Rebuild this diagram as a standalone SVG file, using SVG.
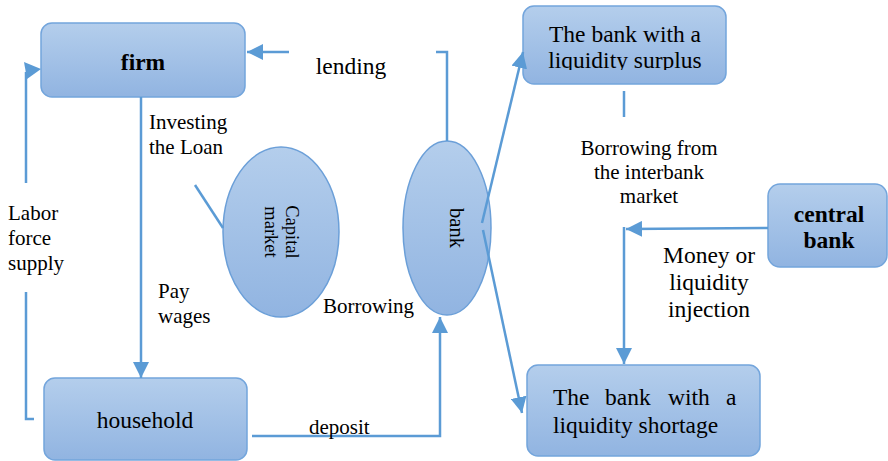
<svg xmlns="http://www.w3.org/2000/svg" width="888" height="461" viewBox="0 0 888 461" font-family="'Liberation Serif', 'DejaVu Serif', serif">
<defs>
<linearGradient id="g" x1="0" y1="0" x2="0" y2="1">
<stop offset="0" stop-color="#b4ceec"/>
<stop offset="1" stop-color="#91b4e1"/>
</linearGradient>
<marker id="ah" markerUnits="userSpaceOnUse" markerWidth="17" markerHeight="16" refX="16" refY="8" orient="auto" viewBox="0 0 17 16">
<path d="M0,0 L16,8 L0,16 z" fill="#5b9bd5"/>
</marker>
<clipPath id="clipS"><rect x="523" y="6" width="203" height="64"/></clipPath>
</defs>
<style>
.box{fill:url(#g);stroke:#73a5dc;stroke-width:1.5}
.ell{fill:url(#g);stroke:#6b9fd8;stroke-width:1.5}
.c{fill:none;stroke:#5b9bd5;stroke-width:2.5}
.a{marker-end:url(#ah)}
text{fill:#000}
.big{font-size:23.5px}
.lbl{font-size:21px}
.b{font-weight:bold}
</style>
<rect width="888" height="461" fill="#fff"/>
<g id="firm">
<rect class="box" x="41" y="23" width="204" height="74" rx="11"/>
<text class="big b" x="143" y="70" text-anchor="middle">firm</text>
</g>
<g id="household">
<rect class="box" x="44" y="378" width="203" height="82" rx="11"/>
<text class="big" x="145" y="428" text-anchor="middle">household</text>
</g>
<g id="capital-market">
<ellipse class="ell" cx="281" cy="232" rx="58" ry="85"/>
<text transform="translate(281,232) rotate(90)" style="font-size:18.5px" text-anchor="middle"><tspan x="0" y="-5">Capital</tspan><tspan x="0" y="16">market</tspan></text>
</g>
<g id="bank">
<ellipse class="ell" cx="447" cy="228" rx="44" ry="87"/>
<text transform="translate(447,228) rotate(90)" style="font-size:20.5px" text-anchor="middle" x="0" y="-3">bank</text>
</g>
<g id="surplus-bank">
<rect class="box" x="523" y="6" width="203" height="78" rx="11"/>
<text class="big" x="625" y="42" text-anchor="middle">The bank with a</text>
<text class="big" x="625" y="68" text-anchor="middle" clip-path="url(#clipS)">liquidity surplus</text>
</g>
<g id="shortage-bank">
<rect class="box" x="527" y="365" width="233" height="91" rx="11"/>
<text class="big" y="405"><tspan x="553">The</tspan><tspan x="605">bank</tspan><tspan x="668">with</tspan><tspan x="726">a</tspan></text>
<text class="big" x="553" y="433">liquidity shortage</text>
</g>
<g id="central-bank">
<rect class="box" x="768" y="184" width="119" height="83" rx="12"/>
<text class="big b" x="829" y="222" text-anchor="middle">central</text>
<text class="big b" x="829" y="248" text-anchor="middle">bank</text>
</g>
<g id="connectors">
<polyline class="c" points="447,141 447,52 436,52"/>
<line class="c a" x1="289" y1="52" x2="247" y2="52"/>
<line class="c a" x1="141" y1="97" x2="141" y2="378"/>
<polyline class="c" points="34,419 26,419 26,292"/>
<line class="c" x1="26" y1="183" x2="26" y2="72"/>
<polygon points="24,62 41,69 27,79" fill="#5b9bd5"/>
<line class="c" x1="195" y1="185" x2="223" y2="228"/>
<polyline class="c a" points="252,436 440,436 440,317"/>
<line class="c a" x1="482" y1="223" x2="523" y2="52"/>
<line class="c a" x1="483" y1="230" x2="522" y2="413"/>
<line class="c" x1="624" y1="91" x2="624" y2="117"/>
<line class="c a" x1="768" y1="228" x2="626" y2="229"/>
<line class="c a" x1="624" y1="227" x2="624" y2="364"/>
</g>
<g id="labels">
<text class="big" x="351" y="74" text-anchor="middle">lending</text>
<text class="lbl" x="149" y="129">Investing</text>
<text class="lbl" x="149" y="154">the Loan</text>
<text class="lbl" x="8" y="220">Labor</text>
<text class="lbl" x="8" y="245">force</text>
<text class="lbl" x="8" y="270">supply</text>
<text class="lbl" x="158" y="298">Pay</text>
<text class="lbl" x="158" y="323">wages</text>
<text class="lbl" x="323" y="313">Borrowing</text>
<text class="lbl" x="309" y="434">deposit</text>
<text class="lbl" x="649" y="155" text-anchor="middle">Borrowing from</text>
<text class="lbl" x="649" y="179" text-anchor="middle">the interbank</text>
<text class="lbl" x="649" y="203" text-anchor="middle">market</text>
<text class="big" x="709" y="263" text-anchor="middle">Money or</text>
<text class="big" x="709" y="290" text-anchor="middle">liquidity</text>
<text class="big" x="709" y="317" text-anchor="middle">injection</text>
</g>
</svg>
